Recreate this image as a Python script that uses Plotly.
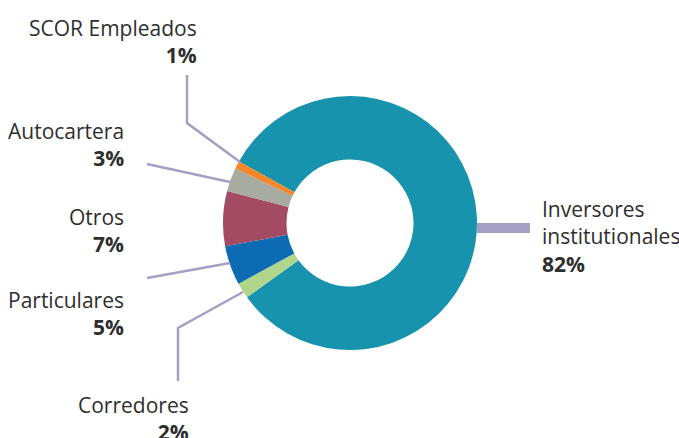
import plotly.graph_objects as go

W, H = 679, 438

categories = ["Inversores institutionales", "Corredores", "Particulares", "Otros", "Autocartera", "SCOR Empleados"]
values = [82, 2, 5, 7, 3, 1]
colors = ["#1793ad", "#b0d68c", "#0d6bb3", "#a34b62", "#a8aba0", "#f5862a"]
label_text = ["Inversores<br>institutionales", "Corredores", "Particulares", "Otros", "Autocartera", "SCOR Empleados"]


def px(x):
    return x / W


def py(y):
    return 1 - y / H


cx, cy, r = 350, 223, 127

fig = go.Figure(go.Pie(
    labels=categories,
    values=values,
    marker=dict(colors=colors, line=dict(width=0)),
    hole=0.5,
    sort=False,
    direction="clockwise",
    rotation=299,
    textinfo="none",
    showlegend=False,
    domain=dict(x=[px(cx - r), px(cx + r)], y=[py(cy + r), py(cy - r)]),
))

line_col = "#a59fc3"
shapes = []


def path(points, width=2.5):
    d = "M " + " L ".join(f"{px(x)},{py(y)}" for x, y in points)
    shapes.append(dict(type="path", path=d, xref="paper", yref="paper",
                       line=dict(color=line_col, width=width)))


path([(187, 75), (187, 123), (240, 162)])
path([(147, 164), (230, 182)])
path([(147, 278), (230, 263)])
path([(178, 381), (178, 328), (243, 292)])
shapes.append(dict(type="rect", xref="paper", yref="paper",
                   x0=px(477), x1=px(530), y0=py(233), y1=py(223),
                   fillcolor=line_col, line=dict(width=0)))

font = dict(family="Open Sans", size=21, color="#2e2e2e")
annotations = []


def label(i, x, y, xanchor, align):
    annotations.append(dict(
        x=px(x), y=py(y), xref="paper", yref="paper",
        text=f"{label_text[i]}<br><b>{values[i]}%</b>",
        showarrow=False, xanchor=xanchor, yanchor="middle", align=align,
        font=font,
    ))


label(5, 199, 42, "right", "right")
label(4, 126, 144, "right", "right")
label(3, 126, 230, "right", "right")
label(2, 126, 313, "right", "right")
label(1, 191, 418, "right", "right")
label(0, 540, 236, "left", "left")

fig.update_layout(
    width=W, height=H,
    margin=dict(l=0, r=0, t=0, b=0),
    paper_bgcolor="white", plot_bgcolor="white",
    shapes=shapes, annotations=annotations,
)

fig.write_html("out.html")
